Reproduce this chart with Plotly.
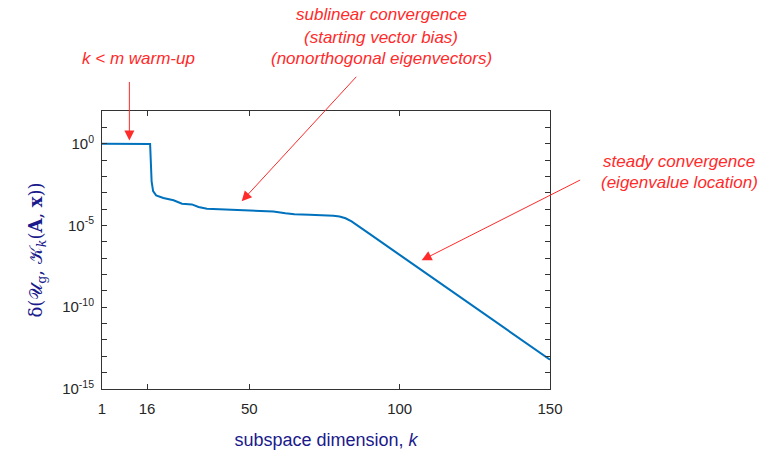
import numpy as np
import plotly.graph_objects as go

# subspace dimension k and log10 of the distance delta
k_vals = [1, 16, 17, 17.5, 18, 19, 21.4, 24.8, 27.6, 30.9, 33.1, 35.9, 40.4, 44, 50, 55, 58,
          62, 65, 70, 75, 78, 80, 82, 84, 86, 88, 90, 100, 110, 120, 130, 140, 150]
log_delta = [0, 0, -0.02, -2.3, -2.9, -3.16, -3.32, -3.46, -3.67, -3.71, -3.87, -3.97, -4.01,
             -4.06, -4.09, -4.12, -4.15, -4.25, -4.31, -4.35, -4.37, -4.40, -4.45, -4.56,
             -4.75, -4.99, -5.25, -5.51, -6.80, -8.08, -9.36, -10.65, -11.93, -13.21]

x_ticks = [1, 16, 50, 100, 150]
y_tick_exps = list(range(-15, 3))
y_labeled = [0, -5, -10, -15]
y_tick_text = ["10<sup>%d</sup>" % e if e in y_labeled else "" for e in y_tick_exps]

delta = [10 ** v for v in log_delta]

RED = "#ff2a2a"
NAVY = "#1a1a8c"
AX = "#333333"

fig = go.Figure()
fig.add_trace(go.Scatter(x=k_vals, y=delta, mode="lines",
                         line=dict(color="#0072BD", width=2), showlegend=False))

W, H = 769, 450
L, R, T, B = 102, 550, 111, 389

def px(xp):
    return (xp - L) / (R - L)

def py(yp):
    return (B - yp) / (B - T)

fig.update_layout(
    width=W, height=H,
    margin=dict(l=L, r=W - R, t=T, b=H - B, autoexpand=False),
    paper_bgcolor="white", plot_bgcolor="white",
    font=dict(family="Liberation Sans, Arial, sans-serif", size=15, color="#262626"),
    xaxis=dict(range=[1, 150], tickvals=x_ticks, ticktext=[str(v) for v in x_ticks],
               ticks="inside", ticklen=5, tickcolor=AX, showline=True, linecolor=AX,
               linewidth=1, mirror="allticks", showgrid=False, zeroline=False,
               ticklabelstandoff=6, automargin=False,
               title=dict(text="subspace dimension, <i>k</i>",
                          font=dict(size=18, color=NAVY), standoff=24)),
    yaxis=dict(type="log", range=[-15, 2], tickvals=[10 ** e for e in y_tick_exps],
               ticktext=y_tick_text, ticks="inside", ticklen=5, tickcolor=AX,
               showline=True, linecolor=AX, linewidth=1, mirror="allticks",
               showgrid=False, zeroline=False, ticklabelstandoff=4, automargin=False,
               title=dict(text="δ(𝒰<sub>g</sub>, 𝒦<sub><i>k</i></sub>(<b>A</b>, <b>x</b>))",
                          font=dict(size=18, color=NAVY, family="DejaVu Serif, serif"),
                          standoff=14)),
)

afont = dict(family="Liberation Sans, Arial, sans-serif", size=17, color=RED)

texts = [
    ("<i>k</i> <i>&lt;</i> <i>m warm-up</i>", 138, 58),
    ("<i>sublinear convergence</i>", 381, 15),
    ("<i>(starting vector bias)</i>", 381, 37),
    ("<i>(nonorthogonal eigenvectors)</i>", 381, 58),
    ("<i>steady convergence</i>", 679, 161),
    ("<i>(eigenvalue location)</i>", 679, 182),
]
for t, xp, yp in texts:
    fig.add_annotation(text=t, xref="paper", yref="paper", x=px(xp), y=py(yp),
                       xanchor="center", yanchor="middle", showarrow=False, font=afont)

# arrows: tip in data coordinates, tail as pixel offset
arrows = [
    (10.1, 0.2, 0, -60),
    (47.46, -3.52, 116, -126),
    (107.3, -7.13, 160, -81),
]
for kx, ly, ax, ay in arrows:
    fig.add_annotation(x=kx, y=ly, xref="x", yref="y", text="", showarrow=True,
                       ax=ax, ay=ay, axref="pixel", ayref="pixel",
                       arrowhead=2, arrowsize=2, arrowwidth=1, arrowcolor=RED,
                       standoff=0)

fig.write_html("out.html")
